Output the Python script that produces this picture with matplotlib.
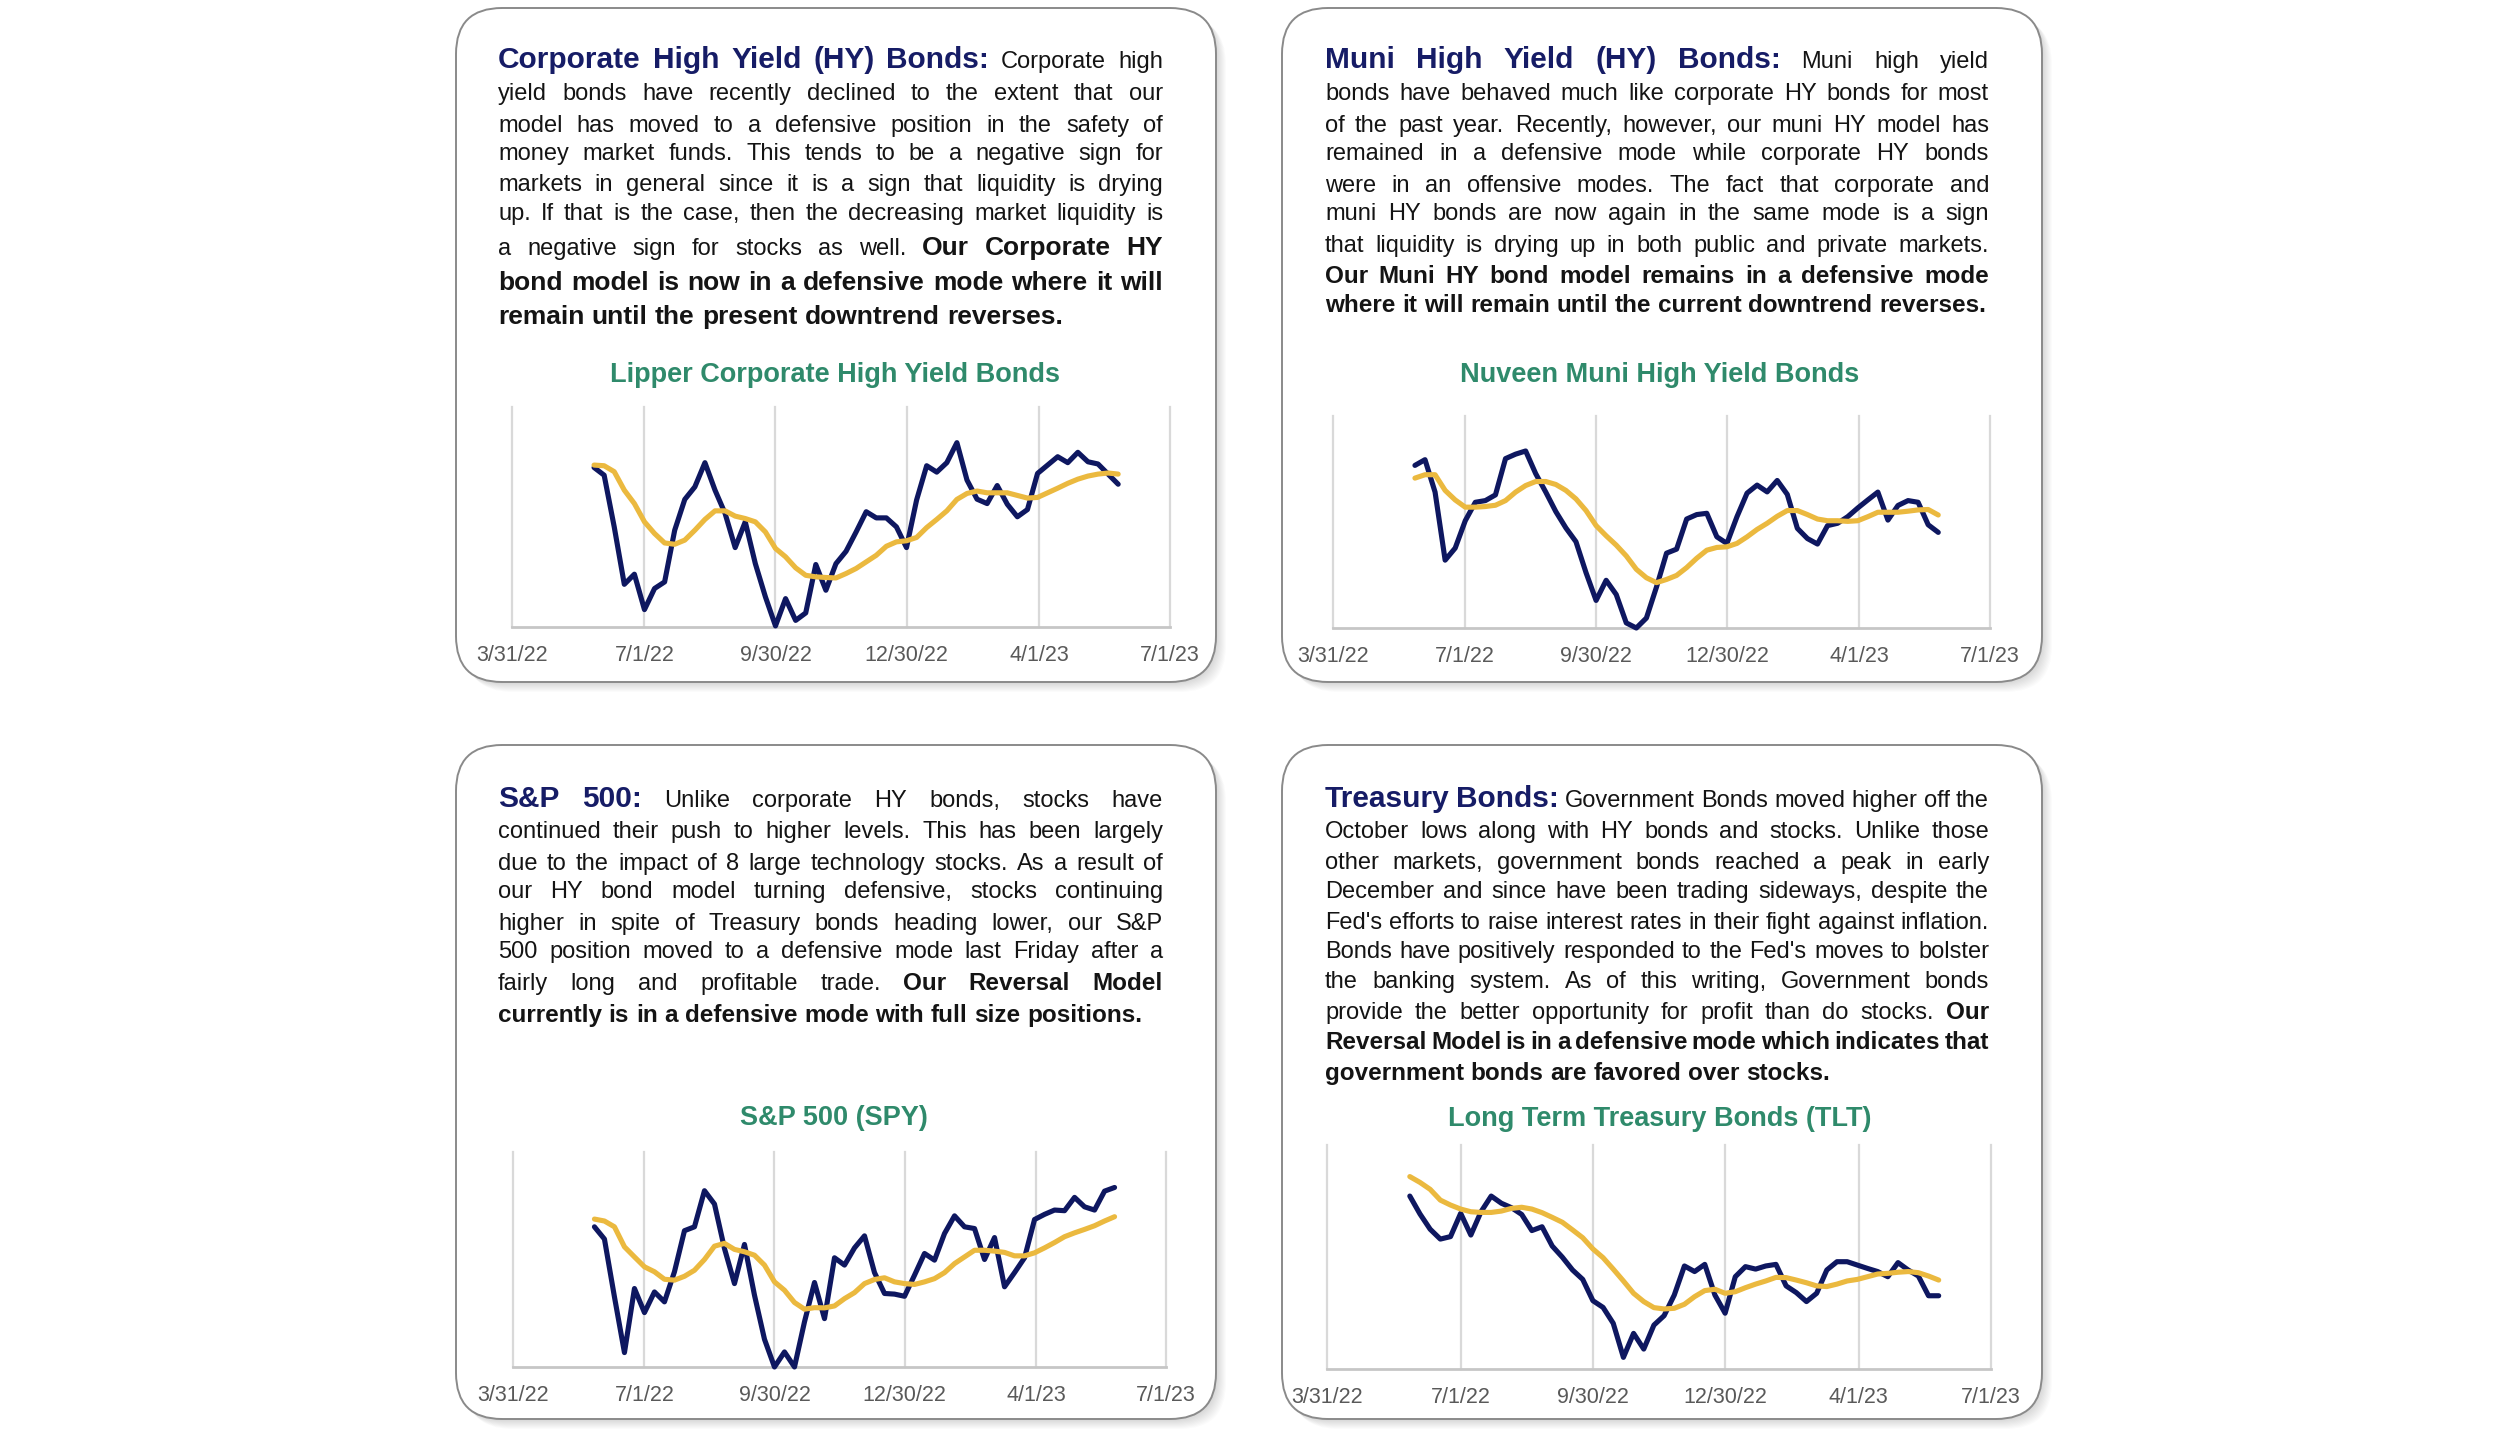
import pandas as pd
import matplotlib
matplotlib.use('Agg')
import matplotlib.pyplot as plt
from matplotlib.patches import FancyBboxPatch

W, H = 2500, 1443
DPI = 100

NAVY = '#161c66'
LINE_NAVY = '#0e1760'
GOLD = '#ebb93f'
GREEN = '#2f8a6b'
GRID = '#d9d9d9'
TICK = '#595959'
INK = '#141414'

plt.rcParams['font.family'] = ['Liberation Sans', 'DejaVu Sans']

# weekly closes, late May 2022 to late May 2023 (index units)
weeks = pd.date_range('2022-05-27', '2023-05-26', freq='7D').to_pydatetime()
tick_dates = pd.to_datetime(['2022-03-31', '2022-07-01', '2022-09-30',
                             '2022-12-30', '2023-04-01', '2023-07-01']).to_pydatetime()
tick_labels = ['3/31/22', '7/1/22', '9/30/22', '12/30/22', '4/1/23', '7/1/23']

corp_hy = [72.5, 69.0, 45.5, 19.4, 24.0, 7.9, 17.5, 20.5, 44.0, 58.0,
           63.7, 74.7, 62.2, 51.6, 36.1, 47.8, 28.8, 13.7, 0.5, 12.9,
           3.0, 6.4, 28.4, 16.7, 28.8, 34.4, 43.2, 52.4, 49.6, 49.6,
           45.5, 36.1, 57.7, 73.3, 70.4, 74.7, 83.8, 66.8, 58.1, 56.1,
           64.3, 55.8, 50.1, 53.4, 69.8, 73.6, 77.4, 74.7, 79.4, 75.1,
           74.1, 69.5, 64.9]
corp_hy_avg = [73.6, 73.3, 70.6, 62.2, 56.1, 47.8, 42.5, 38.2, 37.6, 39.5,
               44.0, 48.9, 52.8, 52.8, 50.4, 49.3, 47.8, 43.2, 35.7, 31.9,
               26.9, 23.5, 22.8, 22.5, 22.3, 24.3, 26.6, 29.6, 32.6, 36.7,
               38.7, 39.2, 40.7, 45.2, 48.9, 52.8, 58.0, 60.7, 61.8, 61.0,
               61.0, 61.0, 59.8, 58.6, 58.9, 61.0, 63.1, 65.3, 67.2, 68.6,
               69.5, 70.0, 69.5]

muni_hy = [76.7, 79.4, 64.1, 32.0, 37.7, 50.6, 59.3, 60.1, 62.8, 79.9,
           82.0, 83.5, 72.8, 64.1, 54.9, 47.2, 40.7, 26.1, 13.0, 22.5,
           15.8, 2.4, 0.0, 4.7, 19.3, 35.3, 37.2, 51.4, 53.5, 54.1,
           43.0, 39.9, 52.5, 63.6, 67.4, 64.2, 69.6, 63.0, 47.0, 42.2,
           39.6, 48.3, 49.4, 52.5, 56.6, 60.4, 64.1, 50.9, 57.8, 60.1,
           59.3, 48.7, 45.1]
muni_hy_avg = [70.7, 72.3, 72.3, 64.9, 60.4, 57.0, 57.0, 57.3, 57.9, 60.1,
               64.1, 67.2, 69.1, 69.1, 67.7, 64.9, 60.9, 55.4, 48.3, 43.5,
               39.1, 34.0, 27.7, 23.7, 21.4, 22.9, 24.8, 28.5, 32.9, 36.7,
               38.0, 38.3, 39.9, 43.0, 46.5, 49.4, 52.7, 55.4, 55.4, 53.5,
               51.4, 50.6, 50.6, 50.3, 50.6, 52.5, 54.6, 54.6, 54.6, 55.1,
               55.7, 55.9, 53.3]

spy = [65.2, 59.5, 32.6, 6.7, 36.5, 25.3, 34.9, 30.3, 44.3, 63.4,
       65.2, 82.0, 75.8, 55.1, 38.8, 57.0, 33.4, 12.9, 0.0, 7.0,
       0.0, 21.0, 39.3, 22.5, 50.8, 47.4, 55.4, 61.0, 43.9, 34.2,
       33.9, 32.9, 42.7, 52.8, 49.7, 62.1, 70.3, 65.2, 64.4, 50.0,
       60.2, 37.3, 43.9, 50.8, 68.6, 71.0, 73.0, 72.7, 78.9, 74.5,
       73.0, 81.8, 83.5]
spy_avg = [68.8, 67.9, 65.2, 55.9, 51.2, 46.6, 44.3, 40.8, 40.4, 42.2,
           45.0, 50.0, 56.2, 57.5, 54.7, 53.6, 52.0, 47.4, 39.6, 35.7,
           30.0, 26.9, 27.6, 27.5, 28.4, 31.8, 34.6, 38.8, 40.7, 41.5,
           39.6, 38.8, 38.4, 39.6, 41.1, 43.9, 48.1, 51.2, 54.3, 54.3,
           53.9, 53.3, 51.7, 51.7, 53.1, 55.4, 57.9, 60.6, 62.4, 64.0,
           65.7, 67.9, 69.9]

tlt = [77.2, 69.2, 62.4, 58.0, 59.1, 69.5, 59.8, 70.2, 77.2, 74.0,
       72.0, 69.0, 61.8, 63.5, 54.9, 49.9, 44.2, 40.0, 30.5, 27.5,
       20.4, 5.2, 15.9, 8.9, 19.6, 23.8, 33.0, 46.0, 43.5, 46.7,
       33.0, 24.9, 41.2, 45.7, 44.6, 46.0, 46.7, 37.1, 34.1, 30.1,
       33.8, 44.2, 47.9, 47.9, 46.4, 44.9, 43.5, 41.2, 47.5, 44.2,
       41.5, 32.7, 32.7]
tlt_avg = [85.9, 83.3, 80.2, 75.4, 73.2, 71.4, 70.2, 69.9, 69.9, 70.5,
           71.7, 72.2, 71.4, 69.8, 67.7, 65.5, 62.1, 58.6, 53.6, 49.7,
           44.6, 39.3, 33.8, 30.1, 27.4, 26.8, 27.1, 28.9, 32.3, 35.0,
           35.6, 33.8, 34.5, 36.3, 37.9, 39.3, 40.9, 40.8, 39.7, 38.5,
           37.1, 36.8, 37.9, 39.3, 40.0, 41.2, 42.4, 42.7, 43.2, 43.5,
           43.0, 41.5, 39.7]

# paragraph text, line by line as laid out in the report
# T = heading, R = regular, B = bold
corp_text = [
    [('T', 'Corporate High Yield (HY) Bonds:'), ('R', 'Corporate high')],
    [('R', 'yield bonds have recently declined to the extent that our')],
    [('R', 'model has moved to a defensive position in the safety of')],
    [('R', 'money market funds. This tends to be a negative sign for')],
    [('R', 'markets in general since it is a sign that liquidity is drying')],
    [('R', 'up. If that is the case, then the decreasing market liquidity is')],
    [('R', 'a negative sign for stocks as well.'), ('B', 'Our Corporate HY')],
    [('B', 'bond model is now in a defensive mode where it will')],
    [('B', 'remain until the present downtrend  reverses.')],
]
muni_text = [
    [('T', 'Muni High Yield (HY) Bonds:'), ('R', 'Muni high yield')],
    [('R', 'bonds have behaved much like corporate HY bonds for most')],
    [('R', 'of the past year. Recently, however, our muni HY model has')],
    [('R', 'remained in a defensive mode while corporate HY bonds')],
    [('R', 'were in an offensive modes. The fact that corporate and')],
    [('R', 'muni HY bonds are now again in the same mode is a sign')],
    [('R', 'that liquidity is drying up in both public and private markets.')],
    [('B', 'Our Muni HY bond model remains in a defensive mode')],
    [('B', 'where it will remain until the current downtrend reverses.')],
]
spy_text = [
    [('T', 'S&P 500:'), ('R', 'Unlike corporate HY bonds, stocks have')],
    [('R', 'continued their push to higher levels. This has been largely')],
    [('R', 'due to the impact of 8 large technology stocks. As a result of')],
    [('R', 'our HY bond model turning defensive, stocks continuing')],
    [('R', 'higher in spite of Treasury bonds heading lower, our S&P')],
    [('R', '500 position moved to a defensive mode last Friday after a')],
    [('R', 'fairly long and profitable trade.'), ('B', 'Our Reversal Model')],
    [('B', 'currently is in a defensive mode with full size positions.')],
]
tlt_text = [
    [('T', 'Treasury Bonds:'), ('R', 'Government Bonds moved higher off the')],
    [('R', 'October lows along with HY bonds and stocks. Unlike those')],
    [('R', 'other markets, government bonds reached a peak in early')],
    [('R', 'December and since have been trading sideways, despite the')],
    [('R', "Fed's efforts to raise interest rates in their fight against inflation.")],
    [('R', "Bonds have positively responded to the Fed's moves to bolster")],
    [('R', 'the banking system. As of this writing, Government bonds')],
    [('R', 'provide the better opportunity for profit than do stocks.'), ('B', 'Our')],
    [('B', 'Reversal Model is in a defensive mode which indicates that')],
    [('B', 'government bonds are favored over stocks.')],
]

STYLE = {
    'T': dict(fontweight='bold', color=NAVY),
    'R': dict(fontweight='normal', color=INK),
    'B': dict(fontweight='bold', color=INK),
}

fig = plt.figure(figsize=(W / DPI, H / DPI), dpi=DPI, facecolor='white')
bg = fig.add_axes([0, 0, 1, 1])
bg.set_xlim(0, W)
bg.set_ylim(H, 0)
bg.axis('off')
renderer = fig.canvas.get_renderer()


def text_w(t):
    return t.get_window_extent(renderer).width


def space_w(style, size):
    a = bg.text(0, 0, 'n n', fontsize=size, **STYLE[style])
    b = bg.text(0, 0, 'nn', fontsize=size, **STYLE[style])
    d = text_w(a) - text_w(b)
    a.remove()
    b.remove()
    return d


def paragraph(lines, x0, x1, baselines, sizes):
    # justified text: words placed one by one, last line left aligned
    avail = x1 - x0
    rows = []
    for line, yb in zip(lines, baselines):
        row = []
        for style, txt in line:
            for w in txt.split():
                t = bg.text(x0, yb, w, fontsize=sizes[style], va='baseline',
                            ha='left', zorder=5, **STYLE[style])
                row.append((t, style))
        rows.append(row)
    sp = {s: space_w(s, sizes[s]) for s in sizes}
    scale = 1.0
    for row in rows[:-1]:
        need = sum(text_w(t) for t, _ in row) + 0.55 * sum(sp[s] for _, s in row[:-1])
        scale = min(scale, avail / need)
    if scale < 1:
        for row in rows:
            for t, s in row:
                t.set_fontsize(sizes[s] * scale)
        sp = {s: v * scale for s, v in sp.items()}
    for i, row in enumerate(rows):
        widths = [text_w(t) for t, _ in row]
        if i == len(rows) - 1 or len(row) < 2:
            gaps = [sp[s] for _, s in row[:-1]]
        else:
            g = (avail - sum(widths)) / (len(row) - 1)
            gaps = [g] * (len(row) - 1)
        x = x0
        for j, (t, s) in enumerate(row):
            t.set_x(x)
            if j < len(gaps):
                x += widths[j] + gaps[j]


def panel(l, t, r, b):
    for k in range(1, 11):
        sh = FancyBboxPatch((l + k, t + k), r - l, b - t,
                            boxstyle='round,pad=0,rounding_size=46',
                            fc='black', ec='none', alpha=0.017, zorder=1)
        bg.add_patch(sh)
    box = FancyBboxPatch((l, t), r - l, b - t,
                         boxstyle='round,pad=0,rounding_size=46',
                         fc='white', ec='#8a8a8a', lw=1.4, zorder=2)
    bg.add_patch(box)


def chart(box, price, avg, title, tx, ty):
    l, t, r, b = box
    ax = fig.add_axes([l / W, 1 - b / H, (r - l) / W, (b - t) / H])
    ax.set_facecolor('none')
    ax.plot(weeks, price, color=LINE_NAVY, lw=3.7, solid_joinstyle='round',
            solid_capstyle='round', clip_on=False, zorder=3)
    ax.plot(weeks, avg, color=GOLD, lw=3.7, solid_capstyle='round',
            clip_on=False, zorder=4)
    ax.set_xlim(tick_dates[0], tick_dates[-1])
    ax.set_ylim(0, 100)
    ax.set_xticks(tick_dates)
    ax.set_xticklabels(tick_labels)
    ax.set_yticks([])
    ax.tick_params(axis='x', length=0, pad=13, labelsize=15.5, labelcolor=TICK)
    ax.grid(axis='x', color=GRID, lw=1.6)
    for gl in ax.get_xgridlines():
        gl.set_clip_on(False)
    ax.set_axisbelow(True)
    for s in ['top', 'left', 'right']:
        ax.spines[s].set_visible(False)
    ax.spines['bottom'].set_color('#c6c6c6')
    ax.spines['bottom'].set_linewidth(2)
    bg.text(tx, ty, title, fontsize=19.5, fontweight='bold', color=GREEN,
            ha='center', va='baseline', zorder=5)
    return ax


panel(456, 8, 1216, 682)
panel(1282, 8, 2042, 682)
panel(456, 745, 1216, 1419)
panel(1282, 745, 2042, 1419)

paragraph(corp_text, 498, 1163, [68, 100, 132, 160, 191, 220, 255, 290, 324],
          {'T': 21.5, 'R': 17, 'B': 19})
paragraph(muni_text, 1325, 1989, [68, 100, 132, 160, 192, 220, 252, 283, 312],
          {'T': 21.5, 'R': 17, 'B': 17.5})
paragraph(spy_text, 498, 1163, [807, 838, 870, 898, 930, 958, 990, 1022],
          {'T': 21.5, 'R': 17, 'B': 17.5})
paragraph(tlt_text, 1325, 1989, [807, 838, 869, 898, 929, 958, 988, 1019, 1049, 1080],
          {'T': 21.5, 'R': 17, 'B': 17.5})

chart((512, 407, 1170, 627), corp_hy, corp_hy_avg,
      'Lipper Corporate High Yield Bonds', 835, 382)
chart((1333, 416, 1990, 628), muni_hy, muni_hy_avg,
      'Nuveen Muni High Yield Bonds', 1660, 382)
chart((513, 1152, 1166, 1367), spy, spy_avg,
      'S&P 500 (SPY)', 834, 1125)
chart((1327, 1145, 1991, 1369), tlt, tlt_avg,
      'Long Term Treasury Bonds (TLT)', 1660, 1126)

fig.savefig('out.png', dpi=DPI, facecolor='white')
